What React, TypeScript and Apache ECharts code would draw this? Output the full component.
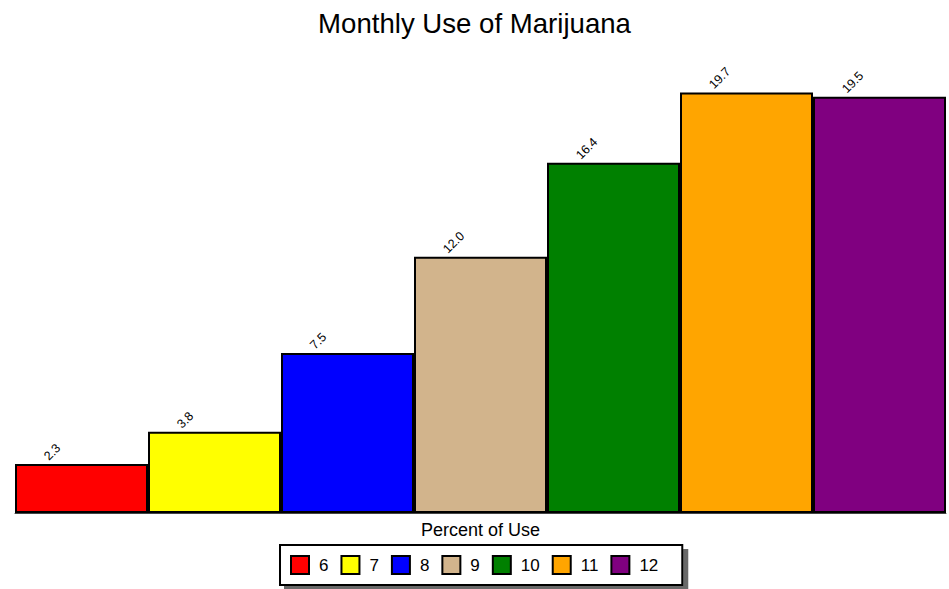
import React, { useEffect, useRef } from "react";
import * as echarts from "echarts";

const categories = ["6", "7", "8", "9", "10", "11", "12"];
const values = [2.3, 3.8, 7.5, 12.0, 16.4, 19.7, 19.5];
const colors = ["#ff0000", "#ffff00", "#0000ff", "#d2b48c", "#008000", "#ffa500", "#800080"];

export default function App() {
  const ref = useRef<HTMLDivElement>(null);
  useEffect(() => {
    const chart = echarts.init(ref.current!, undefined, { renderer: "svg" });
    const series = categories.map((c, i) => ({
      name: c,
      type: "bar",
      stack: "all",
      barCategoryGap: "0%",
      data: categories.map((_, j) => (j === i ? values[i] : "-")),
      itemStyle: { color: colors[i], borderColor: "#000", borderWidth: 2 },
      label: {
        show: true,
        position: "top",
        distance: 0,
        rotate: 45,
        align: "left",
        verticalAlign: "middle",
        offset: [-21, -29],
        fontSize: 12.5,
        color: "#000",
        fontFamily: "Liberation Sans, Arial, sans-serif",
        formatter: (p: any) => Number(p.value).toFixed(1),
      },
    }));
    chart.setOption({
      animation: false,
      textStyle: { fontFamily: "Liberation Sans, Arial, sans-serif" },
      title: {
        text: "Monthly Use of Marijuana",
        left: "center",
        top: 4,
        textStyle: { fontSize: 27.6, fontWeight: "normal", color: "#000" },
      },
      grid: { left: 15, right: 3, top: 86, bottom: 76 },
      xAxis: {
        type: "category",
        data: categories,
        name: "Percent of Use",
        nameLocation: "middle",
        nameGap: 8,
        nameTextStyle: { fontSize: 18, color: "#000", verticalAlign: "top" },
        axisLabel: { show: false },
        axisTick: { show: false },
        axisLine: { lineStyle: { color: "#444", width: 1 } },
      },
      yAxis: {
        type: "value",
        min: 0,
        max: 20,
        show: false,
        splitLine: { show: false },
      },
      legend: {
        data: categories.map((c) => ({ name: c, icon: "rect" })),
        bottom: 4,
        left: 280,
        itemWidth: 18,
        itemHeight: 18,
        itemGap: 12,
        padding: [10, 24, 10, 10],
        borderColor: "#000",
        borderWidth: 2,
        backgroundColor: "#fff",
        shadowColor: "rgba(90,90,90,0.9)",
        shadowOffsetX: 5,
        shadowOffsetY: 5,
        shadowBlur: 0,
        itemStyle: { borderColor: "#000", borderWidth: 2 },
        textStyle: { fontSize: 17, color: "#000", padding: [0, 0, 0, 5] },
        selectedMode: false,
      },
      series,
    });
    return () => chart.dispose();
  }, []);
  return <div ref={ref} style={{ width: 949, height: 589, position: "absolute", left: 0, top: 0 }} />;
}
